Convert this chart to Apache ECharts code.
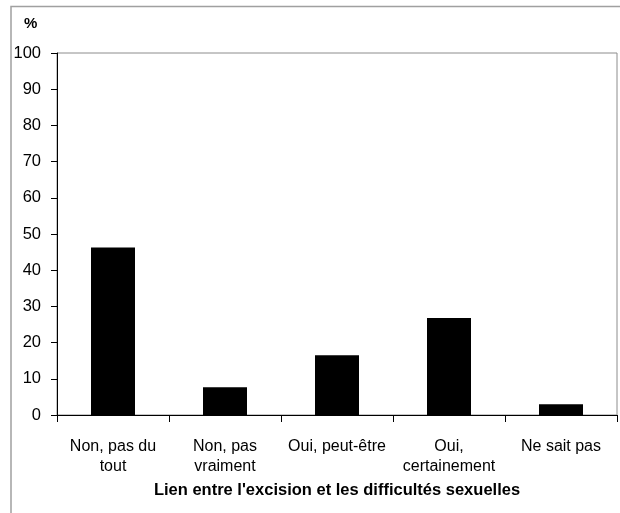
<!DOCTYPE html>
<html>
<head>
<meta charset="utf-8">
<script src="https://cdn.jsdelivr.net/npm/echarts@6/dist/echarts.min.js"></script>
<style>
html,body{margin:0;padding:0;background:#fff;}
#chart{width:620px;height:513px;}
</style>
</head>
<body>
<div id="chart"></div>
<script>
const categories = ["Non, pas du\ntout", "Non, pas\nvraiment", "Oui, peut-être", "Oui,\ncertainement", "Ne sait pas"];
const values = [46.3, 7.7, 16.5, 26.8, 3.0];
const yTicks = [0, 10, 20, 30, 40, 50, 60, 70, 80, 90, 100];
const axisTitle = "Lien entre l'excision et les difficultés sexuelles";
const unitLabel = "%";

const font = "Arial, 'Liberation Sans', sans-serif";
const chart = echarts.init(document.getElementById('chart'), null, {renderer: 'canvas'});
chart.setOption({
  backgroundColor: '#fff',
  animation: false,
  graphic: [
    {type: 'rect', z: -10, silent: true,
     shape: {x: 11, y: 6.5, width: 700, height: 600},
     style: {fill: '#fff', stroke: '#a0a0a0', lineWidth: 1.5}},
    {type: 'text', left: 24, top: 16,
     style: {text: unitLabel, font: "bold 15px " + font, fill: '#000'}}
  ],
  grid: {left: 57, right: 3, top: 53, bottom: 98, show: true, borderColor: '#8c8c8c', borderWidth: 1, backgroundColor: '#fff'},
  xAxis: {
    type: 'category',
    data: categories,
    boundaryGap: true,
    axisLine: {lineStyle: {color: '#000', width: 1}},
    axisTick: {show: true, inside: false, length: 7, alignWithLabel: false, lineStyle: {color: '#000'}},
    axisLabel: {color: '#000', fontFamily: font, fontSize: 16, lineHeight: 20, margin: 22, interval: 0},
    name: axisTitle,
    nameLocation: 'middle',
    nameGap: 67,
    nameTextStyle: {color: '#000', fontFamily: font, fontSize: 16.5, fontWeight: 'bold'}
  },
  yAxis: {
    type: 'value',
    min: 0, max: 100, interval: 10,
    axisLine: {show: true, lineStyle: {color: '#000', width: 1}},
    axisTick: {show: true, length: 6, lineStyle: {color: '#000'}},
    splitLine: {show: false},
    axisLabel: {color: '#000', fontFamily: font, fontSize: 16.5, margin: 16,
      formatter: function (v) { return yTicks.indexOf(v) >= 0 ? String(v) : ''; }}
  },
  series: [{
    type: 'bar',
    data: values,
    barWidth: 44,
    itemStyle: {color: '#000'}
  }]
});
</script>
</body>
</html>
